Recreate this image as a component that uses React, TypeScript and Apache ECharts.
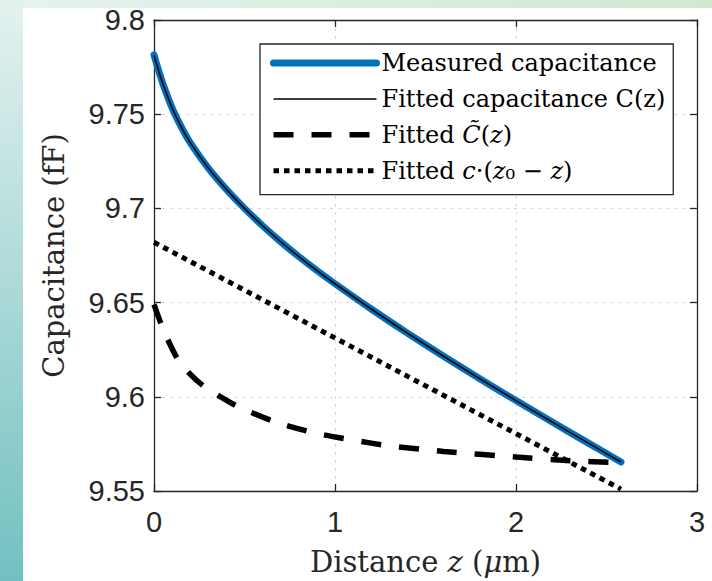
import React, { useEffect, useRef } from "react";
import * as echarts from "echarts";

// ---- data ----
const zMeasured = [0, 0.02, 0.05, 0.1, 0.15, 0.2, 0.3, 0.4, 0.5, 0.6, 0.7, 0.8, 0.9, 1.0, 1.2, 1.4, 1.6, 1.8, 2.0, 2.2, 2.4, 2.58];
const measuredCap = [9.7815, 9.7749, 9.7659, 9.7534, 9.7434, 9.7349, 9.7214, 9.7101, 9.7, 9.6908, 9.6823, 9.6744, 9.667, 9.66, 9.6466, 9.6338, 9.6215, 9.6096, 9.598, 9.5866, 9.5754, 9.5654];
const fittedCap = [9.7812, 9.7748, 9.7659, 9.7534, 9.7434, 9.7349, 9.7214, 9.7101, 9.7, 9.6908, 9.6823, 9.6744, 9.667, 9.66, 9.6466, 9.6338, 9.6215, 9.6096, 9.598, 9.5866, 9.5754, 9.5654];

const zTilde = [0, 0.05, 0.125, 0.2, 0.27, 0.35, 0.46, 0.66, 0.88, 1.1, 1.3, 1.6, 2.0, 2.3, 2.58];
const tildeCap = [9.649, 9.636, 9.621, 9.612, 9.606, 9.601, 9.595, 9.587, 9.581, 9.577, 9.574, 9.571, 9.568, 9.566, 9.565];

const zLinear = [0, 2.58];
const linearCap = [9.682, 9.551];

const xMin = 0, xMax = 3, xStep = 1;
const yMin = 9.55, yMax = 9.8, yStep = 0.05;

const seriesNames = [
  "Measured capacitance",
  "Fitted capacitance C(z)",
  "Fitted C\u0303(z)",
  "Fitted c\u00b7(z\u2080 \u2212 z)",
];
const legendRich = [
  "{r|Measured capacitance}",
  "{r|Fitted capacitance C(z)}",
  "{r|Fitted }{i|C\u0303}{r|(}{i|z}{r|)}",
  "{r|Fitted }{i|c}{r|\u00b7(}{i|z}{r|\u2080 \u2212 }{i|z}{r|)}",
];

const AXIS = "#262626";
const SERIF = "'DejaVu Serif', serif";
const SANS = "'Liberation Sans', Arial, sans-serif";

export default function App() {
  const ref = useRef<HTMLDivElement>(null);
  useEffect(() => {
    if (!ref.current) return;
    const chart = echarts.init(ref.current, undefined, { renderer: "svg" });
    const pairs = (xs: number[], ys: number[]) => xs.map((x, i) => [x, ys[i]]);
    const axisLine = { show: true, onZero: false, lineStyle: { color: AXIS, width: 1.3 } };
    const axisTick = { show: true, inside: true, length: 7, lineStyle: { color: AXIS, width: 1.3 } };
    const splitLine = { show: true, lineStyle: { type: [3, 5], color: "#d6d6d6", width: 1 } };
    const fmt = (v: number) => String(+(+v).toFixed(2));
    const hidden = { color: "transparent", borderColor: "transparent", borderWidth: 0, opacity: 0 };
    chart.setOption({
      animation: false,
      grid: { left: 154, right: 15, top: 20, bottom: 90, containLabel: false },
      xAxis: [
        {
          type: "value", min: xMin, max: xMax, interval: xStep, position: "bottom",
          axisLine, axisTick, splitLine,
          axisLabel: { show: true, margin: 16, color: AXIS, fontFamily: SANS, fontSize: 29, formatter: fmt },
          name: "{r|Distance }{i|z}{r| (}{i|\u03bc}{r|m)}",
          nameLocation: "middle",
          nameGap: 56,
          nameTextStyle: {
            color: AXIS,
            rich: {
              r: { fontFamily: SERIF, fontSize: 29, color: AXIS },
              i: { fontFamily: SERIF, fontSize: 29, fontStyle: "italic", color: AXIS },
            },
          },
        },
        {
          type: "value", min: xMin, max: xMax, interval: xStep, position: "top",
          axisLine, axisTick, splitLine: { show: false }, axisLabel: { show: false },
        },
      ],
      yAxis: [
        {
          type: "value", min: yMin, max: yMax, interval: yStep, position: "left",
          axisLine, axisTick, splitLine,
          axisLabel: { show: true, margin: 9, color: AXIS, fontFamily: SANS, fontSize: 29, formatter: fmt },
          name: "Capacitance (fF)",
          nameLocation: "middle",
          nameGap: 86,
          nameTextStyle: { color: AXIS, fontFamily: SERIF, fontSize: 29 },
        },
        {
          type: "value", min: yMin, max: yMax, interval: yStep, position: "right",
          axisLine, axisTick, splitLine: { show: false }, axisLabel: { show: false },
        },
      ],
      legend: {
        show: true,
        orient: "vertical",
        left: 260,
        top: 44,
        padding: [7, 8, 12, 10],
        itemWidth: 103,
        itemHeight: 30,
        itemGap: 11.9,
        backgroundColor: "#ffffff",
        borderColor: AXIS,
        borderWidth: 1.3,
        borderRadius: 0,
        selectedMode: false,
        itemStyle: hidden,
        data: [
          { name: seriesNames[0], lineStyle: { width: 7 }, itemStyle: hidden },
          { name: seriesNames[1], lineStyle: { width: 1.5 }, itemStyle: hidden },
          { name: seriesNames[2], lineStyle: { width: 5.5 }, itemStyle: hidden },
          { name: seriesNames[3], lineStyle: { width: 5 }, itemStyle: hidden },
        ],
        formatter: (name: string) => legendRich[seriesNames.indexOf(name)],
        textStyle: {
          color: "#000",
          rich: {
            r: { fontFamily: SERIF, fontSize: 24, color: "#000" },
            i: { fontFamily: SERIF, fontSize: 24, fontStyle: "italic", color: "#000" },
          },
        },
      },
      series: [
        {
          name: seriesNames[0], type: "line", symbol: "none", xAxisIndex: 0, yAxisIndex: 0,
          data: pairs(zMeasured, measuredCap),
          lineStyle: { color: "#0072BD", width: 7, cap: "round", join: "round" },
          itemStyle: { color: "#0072BD" },
          smooth: 0.25,
        },
        {
          name: seriesNames[1], type: "line", symbol: "none", xAxisIndex: 0, yAxisIndex: 0,
          data: pairs(zMeasured, fittedCap),
          lineStyle: { color: "#000", width: 1.6 },
          itemStyle: { color: "#000" },
          smooth: 0.25,
        },
        {
          name: seriesNames[2], type: "line", symbol: "none", xAxisIndex: 0, yAxisIndex: 0,
          data: pairs(zTilde, tildeCap),
          lineStyle: { color: "#000", width: 5.5, type: [20, 18], cap: "butt" },
          itemStyle: { color: "#000" },
          smooth: 0.25,
        },
        {
          name: seriesNames[3], type: "line", symbol: "none", xAxisIndex: 0, yAxisIndex: 0,
          data: pairs(zLinear, linearCap),
          lineStyle: { color: "#000", width: 5, type: [5.5, 5], cap: "butt" },
          itemStyle: { color: "#000" },
        },
      ],
    });
    return () => chart.dispose();
  }, []);

  return (
    <div style={{ position: "fixed", left: 0, top: 0, width: 712, height: 581, background: "#ffffff", overflow: "hidden" }}>
      <div style={{ position: "absolute", left: 0, top: 0, width: 712, height: 8, background: "linear-gradient(to right, #e6f3ef, #cfe9d1)" }} />
      <div style={{ position: "absolute", left: 0, top: 0, width: 23, height: 581, background: "linear-gradient(to bottom, #e4f2ef, #72c0c1)" }} />
      <div ref={ref} style={{ position: "absolute", left: 0, top: 0, width: 712, height: 581 }} />
    </div>
  );
}
